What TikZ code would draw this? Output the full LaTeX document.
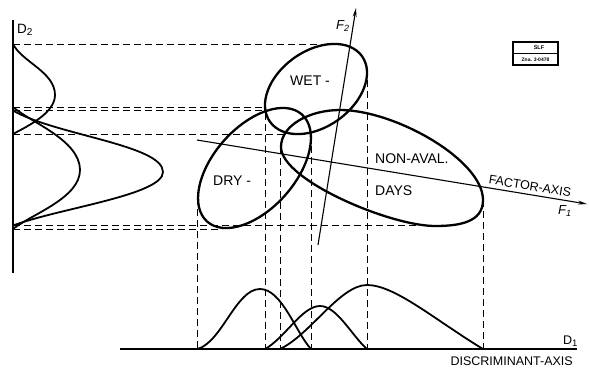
\documentclass[tikz,border=0pt]{standalone}
\usepackage{fontspec}
\setmainfont{Liberation Sans}
\usetikzlibrary{arrows.meta}
\begin{document}
\begin{tikzpicture}[x=1pt,y=-1pt,
  lbl/.style={inner sep=0pt, font=\fontsize{14}{16}\selectfont},
  small/.style={inner sep=0pt, font=\fontsize{12.5}{14}\selectfont},
  ell/.style={line width=2.3pt},
  dist/.style={line width=1.8pt},
  axis/.style={line width=1.3pt},
  proj/.style={line width=1pt, dash pattern=on 7pt off 4pt},
  arr/.style={-{Stealth[length=9pt,width=4pt]}},
]
\useasboundingbox (0,0) rectangle (589,367);

% axes
\coordinate (d2top) at (13,20);
\coordinate (d2bot) at (13,273);
\coordinate (d1l) at (120,349);
\coordinate (d1r) at (577,349);
\draw[axis] (d2top) -- (d2bot);
\draw[axis] (d1l) -- (d1r);

% horizontal projection lines
\draw[proj] (13,44) -- (337,44);
\draw[proj] (13,107) -- (266,107);
\draw[proj] (13,110.5) -- (266,110.5);
\draw[proj] (13,134) -- (285,134);
\draw[proj] (13,225.5) -- (432,225.5);
\draw[proj] (13,229) -- (222,229);

% vertical projection lines
\draw[proj] (197.5,198) -- (197.5,349);
\draw[proj] (265,113) -- (265,349);
\draw[proj] (280,147) -- (280,349);
\draw[proj] (311,135) -- (311,349);
\draw[proj] (367,80) -- (367,349);
\draw[proj] (483,200) -- (483,349);

% ellipses
\draw[ell, rotate around={35.5:(316,89)}] (316,89) ellipse [x radius=56.5, y radius=38];
\draw[ell, rotate around={48.5:(254.5,168)}] (254.5,168) ellipse [x radius=71.5, y radius=41];
\draw[ell] (281,147) .. controls (281,125) and (310,110) .. (340,110)
  .. controls (395,110) and (483,160) .. (483,200)
  .. controls (483,222) and (460,226) .. (435,226)
  .. controls (390,226) and (281,180) .. cycle;

% factor axes
\coordinate (fa0) at (197,140);
\coordinate (fa1) at (587,204);
\coordinate (fb0) at (318,245);
\coordinate (fb1) at (356,8);
\draw[axis, line width=1.1pt, arr] (fa0) -- (fa1);
\draw[axis, line width=1.1pt, arr] (fb0) -- (fb1);

% distributions on D2
\draw[dist] (13,44) .. controls (22,62) and (55,72) .. (55,95)
  .. controls (55,113) and (28,126) .. (13,134);
\draw[dist] (13,107) .. controls (30,122) and (80,140) .. (80,170)
  .. controls (80,198) and (32,214) .. (13,229);
\draw[dist] (13,110.5) .. controls (55,135) and (163,145) .. (163,172)
  .. controls (163,195) and (60,208) .. (13,225.5);

% distributions on D1
\draw[dist] (197.5,349) .. controls (222,342) and (236,289) .. (260,289)
  .. controls (282,289) and (296,333) .. (311,349);
\draw[dist] (265,349) .. controls (285,338) and (302,306) .. (320,306)
  .. controls (337,306) and (352,336) .. (367,349);
\draw[dist] (280,349) .. controls (310,335) and (340,285) .. (367,285)
  .. controls (395,285) and (435,320) .. (483,349);

% labels
\node[lbl, anchor=west] (wet) at (290,81) {WET -};
\node[lbl, anchor=west] (dry) at (213,181) {DRY -};
\node[lbl, anchor=west] (nonaval) at (375,159) {NON-AVAL.};
\node[lbl, anchor=west] (days) at (375,191) {DAYS};
\node[small, rotate=-9.3] (factor) at (530,186) {FACTOR-AXIS};
\node[small, anchor=east] (discr) at (573,361) {DISCRIMINANT-AXIS};
\node[inner sep=0pt, font=\fontsize{13.5}{15}\selectfont, anchor=west] (d2lab) at (17,30) {D\raisebox{-0.35ex}{\fontsize{10}{11}\selectfont 2}};
\node[inner sep=0pt, font=\fontsize{12.5}{14}\selectfont, anchor=west] (d1lab) at (563,341) {D\raisebox{-0.35ex}{\fontsize{9.5}{10}\selectfont 1}};
\node[inner sep=0pt, font=\fontsize{13}{14}\selectfont\itshape, anchor=west] (f2lab) at (336,26) {F\raisebox{-0.4ex}{\fontsize{9}{10}\selectfont 2}};
\node[inner sep=0pt, font=\fontsize{13}{14}\selectfont\itshape, anchor=west] (f1lab) at (558,211) {F\raisebox{-0.4ex}{\fontsize{9}{10}\selectfont 1}};

% stamp
\draw[line width=1.2pt] (513,42) rectangle (558,65);
\draw[line width=0.8pt] (513,53.5) -- (558,53.5);
\node[inner sep=0pt, font=\fontsize{5.5}{6}\selectfont\bfseries] (slf1) at (539,47.8) {SLF};
\node[inner sep=0pt, font=\fontsize{5}{6}\selectfont\bfseries] (slf2) at (535.5,59.5) {Zna. 3-0478};
\end{tikzpicture}
\end{document}
